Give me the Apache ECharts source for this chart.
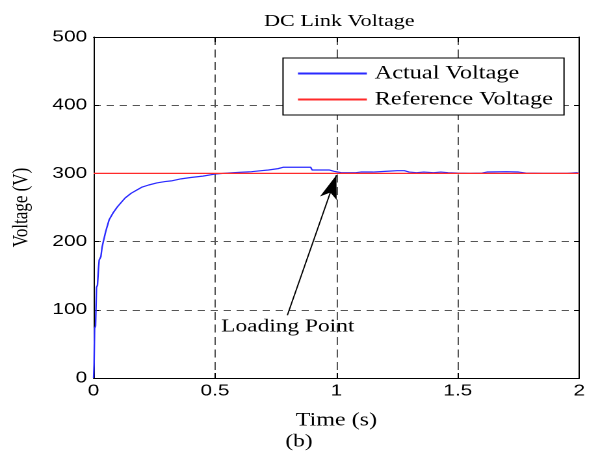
<!DOCTYPE html>
<html>
<head>
<meta charset="utf-8">
<script src="https://cdn.jsdelivr.net/npm/echarts@6/dist/echarts.min.js"></script>
<style>
  html, body { margin: 0; padding: 0; background: #fff; overflow: hidden; }
  #frame { width: 589px; height: 458px; overflow: hidden; }
  /* the figure is laid out narrow and widened horizontally as a whole */
  #chart { width: 453px; height: 458px; transform: scaleX(1.3); transform-origin: 0 0; }
</style>
</head>
<body>
<div id="frame"><div id="chart"></div></div>
<script>
// DC link voltage during start-up and load step
const timeS = [0, 0.002, 0.004, 0.008, 0.012, 0.016, 0.02, 0.023, 0.03, 0.035, 0.04, 0.05, 0.064, 0.08, 0.098, 0.115, 0.13, 0.155, 0.18, 0.2, 0.227, 0.26, 0.294, 0.32, 0.36, 0.4, 0.45, 0.5, 0.55, 0.6, 0.65, 0.69, 0.72, 0.76, 0.78, 0.83, 0.87, 0.894, 0.9, 0.93, 0.97, 0.99, 1.0, 1.02, 1.03, 1.05, 1.06, 1.08, 1.1, 1.15, 1.2, 1.25, 1.28, 1.3, 1.33, 1.36, 1.4, 1.43, 1.46, 1.5, 1.55, 1.6, 1.62, 1.7, 1.75, 1.78, 1.85, 1.9, 1.95, 1.99, 2.0];
const actualV = [0, 20, 73, 76, 133, 136, 160, 173, 178, 192, 200, 215, 232, 242, 251, 258, 264, 271, 276, 280, 283, 286, 288, 289, 292, 294, 296, 299, 300.5, 301.5, 302.5, 304, 305, 307, 309, 309, 309, 309, 305, 305, 305, 303, 303, 301, 303, 301, 302.5, 301, 302, 302, 303, 304, 304, 302, 301, 302, 301, 302, 301, 300.5, 300, 300.5, 302, 302.5, 302, 300.5, 300, 300, 300, 301, 300];
const referenceV = 300;
const yTicks = [0, 100, 200, 300, 400, 500];
const xTicks = [0, 0.5, 1, 1.5, 2];
const loadingArrow = [[0.798, 92], [1.0, 297.5]];
const loadingLabel = [0.8, 75];

const serif = 'Liberation Serif';
const sans = 'Liberation Sans';

const boxLine = { show: true, onZero: false, lineStyle: { color: '#000', width: 1 } };
const xTick = { show: true, inside: true, length: 5, lineStyle: { color: '#000' } };
const yTick = { show: true, inside: true, length: 4, lineStyle: { color: '#000' } };

const chart = echarts.init(document.getElementById('chart'), null, { renderer: 'canvas', devicePixelRatio: 2 });
chart.setOption({
  animation: false,
  backgroundColor: '#fff',
  title: {
    text: 'DC Link Voltage',
    left: 256, top: 8, textAlign: 'center',
    textStyle: { fontFamily: serif, fontSize: 17, fontWeight: 'normal', color: '#000' }
  },
  grid: { left: 70, right: 4.4, top: 37, bottom: 80 },
  legend: {
    orient: 'vertical',
    left: 217.7, top: 58,
    padding: [6, 8.5, 6, 11.5],
    itemGap: 7,
    itemWidth: 53, itemHeight: 2,
    itemStyle: { borderWidth: 0 },
    icon: 'rect',
    borderColor: '#000', borderWidth: 1, backgroundColor: '#fff',
    textStyle: { fontFamily: serif, fontSize: 18.7, color: '#000', lineHeight: 18, padding: [0, 0, 0, 1] },
    data: ['Actual Voltage', 'Reference Voltage']
  },
  xAxis: [
    {
      type: 'value', min: 0, max: 2, interval: 0.5,
      name: 'Time (s)', nameLocation: 'middle', nameGap: 33,
      nameTextStyle: { fontFamily: serif, fontSize: 18.5, color: '#000' },
      axisLine: boxLine, axisTick: xTick,
      splitLine: { show: true, lineStyle: { color: '#555', type: [8, 4.5], width: 1 } },
      axisLabel: {
        fontFamily: sans, fontSize: 16, color: '#000', margin: 5,
        formatter: v => (xTicks.includes(v) ? String(v) : '')
      }
    },
    {
      type: 'value', position: 'top', min: 0, max: 2, interval: 0.5,
      axisLine: boxLine, axisTick: xTick, splitLine: { show: false }, axisLabel: { show: false }
    }
  ],
  yAxis: [
    {
      type: 'value', min: 0, max: 500, interval: 100,
      name: 'Voltage (V)', nameLocation: 'middle', nameGap: 47,
      nameTextStyle: { fontFamily: serif, fontSize: 17, color: '#000' },
      axisLine: boxLine, axisTick: yTick,
      splitLine: { show: true, lineStyle: { color: '#555', type: [5.5, 4.5], width: 1 } },
      axisLabel: {
        fontFamily: sans, fontSize: 16, color: '#000', margin: 5,
        formatter: v => (yTicks.includes(v) ? String(v) : '')
      }
    },
    {
      type: 'value', position: 'right', min: 0, max: 500, interval: 100,
      axisLine: boxLine, axisTick: yTick, splitLine: { show: false }, axisLabel: { show: false }
    }
  ],
  series: [
    {
      name: 'Actual Voltage',
      type: 'line',
      data: timeS.map((t, i) => [t, actualV[i]]),
      showSymbol: false,
      lineStyle: { color: '#2a2aff', width: 1.2 },
      itemStyle: { color: '#2a2aff' },
      z: 3
    },
    {
      name: 'Reference Voltage',
      type: 'line',
      data: [[0, referenceV], [2, referenceV]],
      showSymbol: false,
      lineStyle: { color: '#ff2a2a', width: 1.2 },
      itemStyle: { color: '#ff2a2a' },
      z: 4,
      markLine: {
        silent: true,
        symbol: ['none', 'arrow'],
        symbolSize: [10, 24],
        label: { show: false },
        lineStyle: { color: '#000', width: 1, type: 'solid' },
        itemStyle: { color: '#000' },
        data: [[{ coord: loadingArrow[0] }, { coord: loadingArrow[1] }]]
      },
      markPoint: {
        silent: true,
        symbol: 'circle', symbolSize: 0,
        label: {
          show: true, position: 'inside',
          fontFamily: serif, fontSize: 18, color: '#000',
          formatter: 'Loading Point'
        },
        data: [{ coord: loadingLabel }]
      }
    }
  ],
  graphic: [
    {
      type: 'text', x: 230, y: 442,
      style: {
        text: '(b)', textAlign: 'center', textVerticalAlign: 'middle',
        fontFamily: serif, fontSize: 18, fill: '#000'
      }
    }
  ]
});
</script>
</body>
</html>
